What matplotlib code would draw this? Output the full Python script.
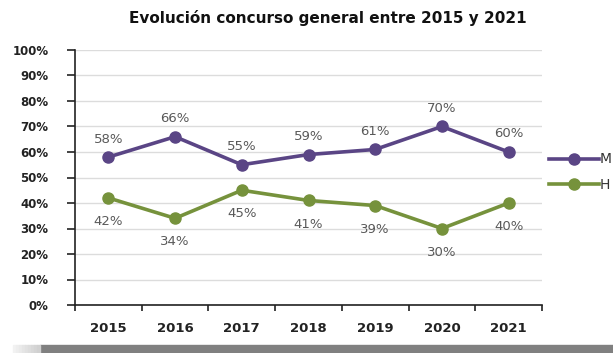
import matplotlib
matplotlib.use("Agg")
import matplotlib.pyplot as plt
import numpy as np
from matplotlib.patches import Rectangle

years = ["2015", "2016", "2017", "2018", "2019", "2020", "2021"]
m_vals = [58, 66, 55, 59, 61, 70, 60]
h_vals = [42, 34, 45, 41, 39, 30, 40]
y_ticks = [0, 10, 20, 30, 40, 50, 60, 70, 80, 90, 100]

purple = "#5a4585"
green = "#76923c"

plt.rcParams['font.family'] = ['DejaVu Sans']

fig = plt.figure(figsize=(6.13, 3.53), dpi=100)
ax = fig.add_axes([75/613, 48/353, 467/613, 255/353])

x = np.arange(len(years))
ax.plot(x, m_vals, color=purple, lw=2.6, marker='o', ms=8, label='M', zorder=3)
ax.plot(x, h_vals, color=green, lw=2.6, marker='o', ms=8, label='H', zorder=3)

for xi, v in zip(x, m_vals):
    ax.annotate(f"{v}%", (xi, v), xytext=(0, 13), textcoords='offset points',
                ha='center', va='center', color='#595959', fontsize=9.5)
for xi, v in zip(x, h_vals):
    ax.annotate(f"{v}%", (xi, v), xytext=(0, -17), textcoords='offset points',
                ha='center', va='center', color='#595959', fontsize=9.5)

ax.set_xlim(-0.5, len(years) - 0.5)
ax.set_ylim(0, 100)
ax.set_yticks(y_ticks)
ax.set_yticklabels([f"{t}%" for t in y_ticks], fontweight='bold', fontsize=8.5, color='#222222')
ax.set_xticks(x)
ax.set_xticklabels(years, fontweight='bold', fontsize=9.5, color='#222222')
ax.set_xticks(np.arange(-0.5, len(years)), minor=True)
ax.tick_params(axis='x', which='major', length=0, pad=12)
ax.tick_params(axis='x', which='minor', length=4, width=1.2, color='#222222')
ax.tick_params(axis='y', length=6, width=1.2, color='#222222', pad=13)
ax.grid(axis='y', color='#dcdcdc', lw=1.0)
ax.set_axisbelow(True)
for s in ['top', 'right']:
    ax.spines[s].set_visible(False)
for s in ['left', 'bottom']:
    ax.spines[s].set_color('#222222')
    ax.spines[s].set_linewidth(1.2)

fig.text(328/613, 1 - 18/353, "Evolución concurso general entre 2015 y 2021",
         ha='center', va='center', fontsize=11, fontweight='bold', color='#111111')

leg = fig.legend(loc='center left', bbox_to_anchor=(536/613, 1 - 172/353), frameon=False,
                 fontsize=10, handlelength=3.6, labelspacing=0.8, handletextpad=0.1,
                 markerscale=1.0)
for t in leg.get_texts():
    t.set_color('#333333')

# bottom grey bar with gradient on the left
bar_y0 = 0
bar_h = 8/353
fig.patches.append(Rectangle((40/613, bar_y0), 1 - 40/613, bar_h, transform=fig.transFigure,
                             color='#808080', zorder=0))
for i in range(9):
    c = 0.95 - i * 0.017
    fig.patches.append(Rectangle(((13 + i * 3) / 613, bar_y0), 3/613, bar_h,
                                 transform=fig.transFigure, color=(c, c, c), zorder=0))

fig.savefig("out.png", dpi=100)
